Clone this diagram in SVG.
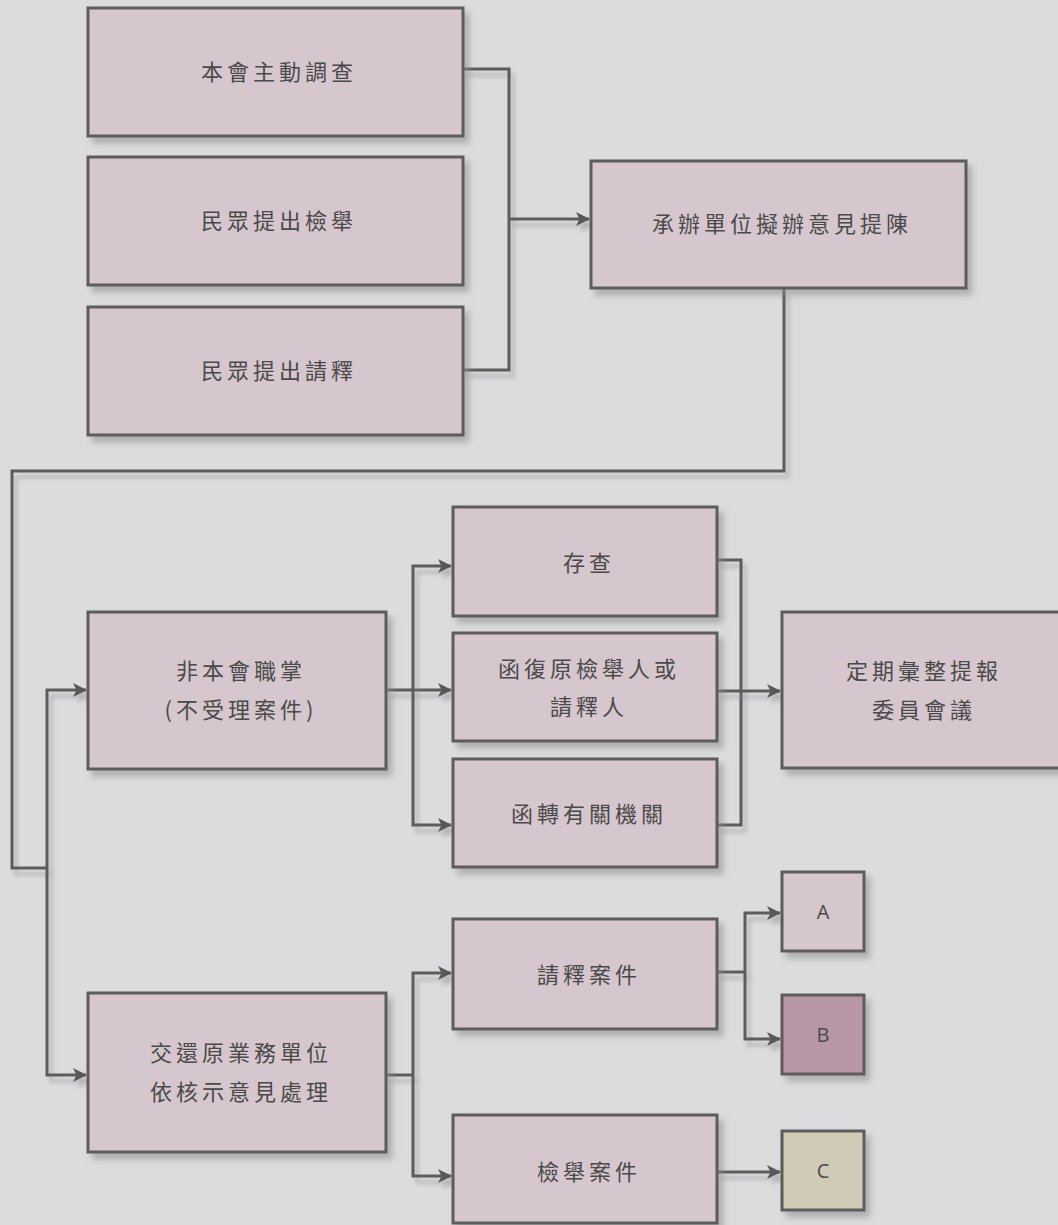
<svg xmlns="http://www.w3.org/2000/svg" width="1058" height="1225" viewBox="0 0 1058 1225">
<defs>
<filter id="sh" x="-10%" y="-10%" width="125%" height="130%">
<feGaussianBlur in="SourceAlpha" stdDeviation="3"/>
<feOffset dx="5" dy="6" result="b"/>
<feFlood flood-color="#8a8a90" flood-opacity="0.55"/>
<feComposite in2="b" operator="in"/>
<feMerge><feMergeNode/><feMergeNode in="SourceGraphic"/></feMerge>
</filter>
<filter id="lsh" filterUnits="userSpaceOnUse" x="0" y="0" width="1058" height="1225">
<feGaussianBlur in="SourceAlpha" stdDeviation="2"/>
<feOffset dx="4" dy="6" result="b"/>
<feFlood flood-color="#8a8a90" flood-opacity="0.5"/>
<feComposite in2="b" operator="in"/>
<feMerge><feMergeNode/><feMergeNode in="SourceGraphic"/></feMerge>
</filter>
<marker id="ar" viewBox="0 0 14 14" refX="13" refY="7" markerWidth="14" markerHeight="14" markerUnits="userSpaceOnUse" orient="auto">
<path d="M0,0 L14,7 L0,14 L3.5,7 Z" fill="#595959"/>
</marker>
</defs>
<style>
.bx{fill:#d6c6cd;stroke:#5c5c5c;stroke-width:3;filter:url(#sh)}
.t{font-family:"Noto Sans CJK TC","Noto Sans CJK SC",sans-serif;font-size:22px;fill:#4a4a4a;text-anchor:middle;letter-spacing:4px}
.l{font-family:"Open Sans","Liberation Sans",sans-serif;font-size:20px;fill:#4a4a4a;text-anchor:middle}
.c{fill:none;stroke:#5c5c5c;stroke-width:3;filter:url(#lsh)}
.a{marker-end:url(#ar)}
</style>
<rect width="1058" height="1225" fill="#dcdcde"/>

<g id="connectors">
<path class="c" d="M463,69 H509 V370 H463"/>
<path class="c a" d="M509,219 H589"/>
<path class="c" d="M784,288 V471 H12 V868 H47"/>
<path class="c a" d="M47,868 V690 H86"/>
<path class="c a" d="M47,868 V1075 H86"/>
<path class="c a" d="M386,690 H451"/>
<path class="c a" d="M413,690 V566 H451"/>
<path class="c a" d="M413,690 V825 H451"/>
<path class="c" d="M717,560 H741 V825 H717"/>
<path class="c a" d="M717,691 H780"/>
<path class="c" d="M386,1075 H413"/>
<path class="c a" d="M413,1075 V973 H451"/>
<path class="c a" d="M413,1075 V1176 H451"/>
<path class="c" d="M717,972 H745"/>
<path class="c a" d="M745,972 V913 H780"/>
<path class="c a" d="M745,972 V1039 H780"/>
<path class="c a" d="M717,1172 H780"/>
</g>

<g id="n1"><rect class="bx" x="88" y="8" width="375" height="128"/><text class="t" x="279" y="80">本會主動調查</text></g>
<g id="n2"><rect class="bx" x="88" y="157" width="375" height="128"/><text class="t" x="279" y="229">民眾提出檢舉</text></g>
<g id="n3"><rect class="bx" x="88" y="307" width="375" height="128"/><text class="t" x="279" y="379">民眾提出請釋</text></g>
<g id="n4"><rect class="bx" x="591" y="161" width="375" height="127"/><text class="t" x="782" y="232">承辦單位擬辦意見提陳</text></g>
<g id="n5"><rect class="bx" x="88" y="612" width="298" height="157"/><text class="t" x="241" y="679">非本會職掌</text><text class="t" x="241" y="718">(不受理案件)</text></g>
<g id="n6"><rect class="bx" x="453" y="507" width="264" height="109"/><text class="t" x="589" y="571">存查</text></g>
<g id="n7"><rect class="bx" x="453" y="633" width="264" height="108"/><text class="t" x="589" y="677">函復原檢舉人或</text><text class="t" x="589" y="715">請釋人</text></g>
<g id="n8"><rect class="bx" x="453" y="759" width="264" height="108"/><text class="t" x="589" y="822">函轉有關機關</text></g>
<g id="n9"><rect class="bx" x="782" y="612" width="280" height="156"/><text class="t" x="924" y="679">定期彙整提報</text><text class="t" x="924" y="718">委員會議</text></g>
<g id="n10"><rect class="bx" x="88" y="993" width="298" height="159"/><text class="t" x="241" y="1061">交還原業務單位</text><text class="t" x="241" y="1100">依核示意見處理</text></g>
<g id="n11"><rect class="bx" x="453" y="919" width="264" height="110"/><text class="t" x="589" y="983">請釋案件</text></g>
<g id="n12"><rect class="bx" x="453" y="1115" width="264" height="108"/><text class="t" x="589" y="1180">檢舉案件</text></g>
<g id="nA"><rect class="bx" x="782" y="872" width="82" height="79"/><text class="l" x="823" y="919">A</text></g>
<g id="nB"><rect class="bx" x="782" y="995" width="82" height="79" style="fill:#b796a5"/><text class="l" x="823" y="1042">B</text></g>
<g id="nC"><rect class="bx" x="782" y="1131" width="82" height="79" style="fill:#d0cab7"/><text class="l" x="823" y="1178">C</text></g>
</svg>
